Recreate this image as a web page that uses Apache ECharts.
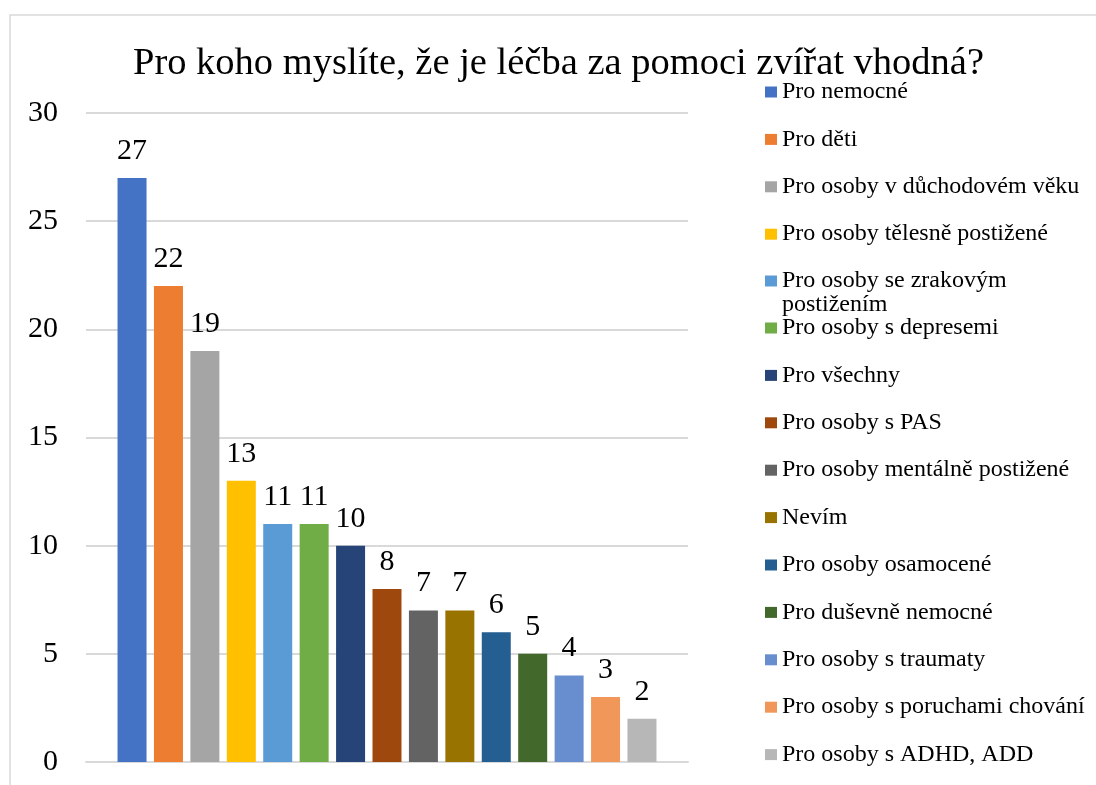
<!DOCTYPE html>
<html>
<head>
<meta charset="utf-8">
<script src="https://cdn.jsdelivr.net/npm/echarts@6/dist/echarts.min.js"></script>
<style>
  html, body { margin: 0; padding: 0; background: #fff; }
  #container { width: 1096px; height: 785px; }
</style>
</head>
<body>
<div id="container"></div>
<script>
var names = [
  'Pro nemocné',
  'Pro děti',
  'Pro osoby v důchodovém věku',
  'Pro osoby tělesně postižené',
  'Pro osoby se zrakovým postižením',
  'Pro osoby s depresemi',
  'Pro všechny',
  'Pro osoby s PAS',
  'Pro osoby mentálně postižené',
  'Nevím',
  'Pro osoby osamocené',
  'Pro duševně nemocné',
  'Pro osoby s traumaty',
  'Pro osoby s poruchami chování',
  'Pro osoby s ADHD, ADD'
];
var values = [27, 22, 19, 13, 11, 11, 10, 8, 7, 7, 6, 5, 4, 3, 2];
var colors = ['#4472C4', '#ED7D31', '#A5A5A5', '#FFC000', '#5B9BD5', '#70AD47', '#264478',
  '#9E480E', '#636363', '#997300', '#255E91', '#43682B', '#698ED0', '#F1975A', '#B7B7B7'];
var yTicks = { min: 0, max: 30, interval: 5 };

var dom = document.getElementById('container');
var myChart = echarts.init(dom, null, { renderer: 'canvas' });

var serif = '"Liberation Serif", "DejaVu Serif", serif';

var legendBase = {
  orient: 'vertical',
  left: 760,
  itemWidth: 12,
  itemHeight: 11,
  itemGap: 23.4,
  icon: 'rect',
  selectedMode: false,
  textStyle: { fontFamily: serif, fontSize: 24, lineHeight: 24, color: '#000' }
};

var series = names.map(function (n, i) {
  return {
    name: n,
    type: 'bar',
    data: [values[i]],
    barWidth: 29,
    barGap: '25.6%',
    itemStyle: { color: colors[i] },
    label: {
      show: true,
      position: 'top',
      distance: 12,
      fontFamily: serif,
      fontSize: 30,
      color: '#000'
    }
  };
});

var option = {
  animation: false,
  color: colors,
  title: {
    text: 'Pro koho myslíte, že je léčba za pomoci zvířat vhodná?',
    left: 128,
    top: 39,
    textStyle: { fontFamily: serif, fontSize: 38.5, fontWeight: 'normal', color: '#000' }
  },
  graphic: [{
    type: 'rect',
    shape: { x: 10, y: 15, width: 1200, height: 900 },
    style: { fill: null, stroke: '#d9d9d9', lineWidth: 1.5 },
    silent: true
  }],
  legend: [
    Object.assign({}, legendBase, { top: 75, data: names.slice(0, 4) }),
    // wrapped item: empty first line keeps the icon level with the first text line
    Object.assign({}, legendBase, {
      top: 240,
      data: names.slice(4, 5),
      formatter: function () { return '\nPro osoby se zrakovým\npostižením'; }
    }),
    Object.assign({}, legendBase, { top: 311, data: names.slice(5) })
  ],
  grid: { left: 86, right: 408, top: 113, bottom: 23 },
  xAxis: {
    type: 'category',
    data: [''],
    axisLine: { lineStyle: { color: '#d9d9d9', width: 2 } },
    axisTick: { show: false },
    axisLabel: { show: false }
  },
  yAxis: {
    type: 'value',
    min: yTicks.min,
    max: yTicks.max,
    interval: yTicks.interval,
    axisLine: { show: false },
    axisTick: { show: false },
    axisLabel: { margin: 28, fontFamily: serif, fontSize: 30, color: '#000' },
    splitLine: { lineStyle: { color: '#d9d9d9', width: 2 } }
  },
  series: series
};

myChart.setOption(option);
window.addEventListener('resize', myChart.resize);
</script>
</body>
</html>
